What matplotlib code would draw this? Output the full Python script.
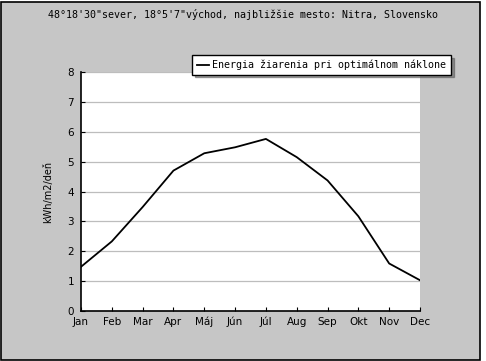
import numpy as np
import matplotlib
matplotlib.use('Agg')
import matplotlib.pyplot as plt
from matplotlib.patches import Rectangle

months= ['Jan', 'Feb', 'Mar', 'Apr', 'Máj', 'Jún', 'Júl', 'Aug', 'Sep', 'Okt', 'Nov', 'Dec']
energy= [1.48, 2.33, 3.48, 4.70, 5.28, 5.48, 5.76, 5.15, 4.37, 3.17, 1.59, 1.03]
title_text= '48°18\'30"sever, 18°5\'7"východ, najbližšie mesto: Nitra, Slovensko'
legend_text= 'Energia žiarenia pri optimálnom náklone'
ylabel_text= 'kWh/m2/deň'

W, H= 486, 361
fig= plt.figure(figsize=(W/100, H/100), dpi=100, facecolor='white')

# gray panel with black frame, kept behind the axes
fig.patches.append(Rectangle((0.5/W, 1.5/H), 479/W, 358/H, transform=fig.transFigure,
                             facecolor='#c6c6c6', edgecolor='black', linewidth=1.2, zorder=-10))

ax= fig.add_axes([81/W, 1-311/H, 339/W, 239/H])
ax.set_zorder(1)
ax.set_facecolor('white')
x= np.arange(len(months))
line,= ax.plot(x, energy, color='black', linewidth=1.3)

ax.set_xlim(0, len(months)-1)
ax.set_ylim(0, 8)
ax.set_xticks(x)
ax.set_xticklabels(months)
ax.set_yticks(range(9))
ax.tick_params(direction='in', length=3, width=0.8, labelsize=7.5, colors='black')
ax.tick_params(axis='x', pad=4)
ax.tick_params(axis='y', pad=5)
ax.yaxis.grid(True, color='#bdbdbd', linewidth=0.9)
ax.set_axisbelow(True)
for s in ['top', 'right']:
	ax.spines[s].set_visible(False)
for s in ['left', 'bottom']:
	ax.spines[s].set_linewidth(1.2)
ax.set_ylabel(ylabel_text, fontsize=7, labelpad=10)

fig.text(0.5, 1-14/H, title_text, ha='center', va='center', fontsize=7.2, family='DejaVu Sans Mono')

leg= fig.legend([line], [legend_text], loc='upper left', bbox_to_anchor=(192/W, 1-55/H),
                prop={'family': 'DejaVu Sans Mono', 'size': 7.2}, fancybox=False, shadow=True,
                framealpha=1, edgecolor='black', handlelength=1.2, handletextpad=0.4,
                borderpad=0.45, borderaxespad=0)
leg.set_zorder(5)
leg.get_frame().set_linewidth(1.0)

fig.savefig('out.png', dpi=100, facecolor='white')
